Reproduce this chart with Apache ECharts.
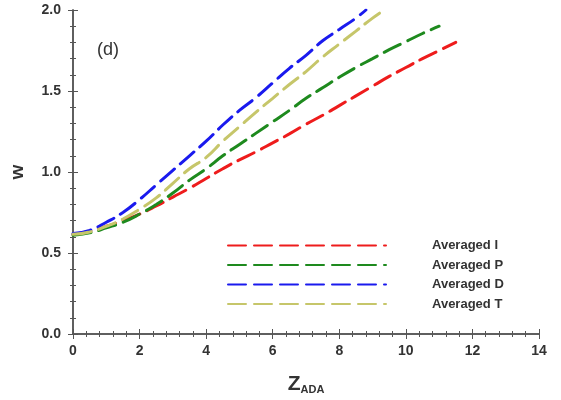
<!DOCTYPE html>
<html>
<head>
<meta charset="utf-8">
<script src="https://cdn.jsdelivr.net/npm/echarts@6/dist/echarts.min.js"></script>
<style>
  html, body { margin: 0; padding: 0; background: #fff; }
  #chart { width: 561px; height: 400px; }
</style>
</head>
<body>
<div id="chart"></div>
<script>
// curve data (x = Z_ADA, y = w)
let zI = [0, 0.5, 1, 1.5, 2, 2.5, 3, 3.5, 4, 4.5, 5, 5.5, 6, 6.5, 7, 7.5, 8, 8.5, 9, 9.5, 10, 10.5, 11, 11.5];
let wI = [0.615, 0.635, 0.665, 0.70, 0.74, 0.79, 0.845, 0.90, 0.96, 1.02, 1.075, 1.125, 1.18, 1.235, 1.295, 1.35, 1.41, 1.47, 1.53, 1.59, 1.645, 1.70, 1.75, 1.80];

let zP = [0, 0.5, 1, 1.5, 2, 2.5, 3, 3.5, 4, 4.5, 5, 5.5, 6, 6.5, 7, 7.5, 8, 8.5, 9, 9.5, 10, 10.5, 11];
let wP = [0.61, 0.625, 0.655, 0.69, 0.74, 0.80, 0.87, 0.95, 1.02, 1.10, 1.17, 1.24, 1.31, 1.38, 1.455, 1.52, 1.585, 1.645, 1.70, 1.755, 1.805, 1.855, 1.90];

let zD = [0, 0.5, 1, 1.5, 2, 2.5, 3, 3.5, 4, 4.5, 5, 5.5, 6, 6.5, 7, 7.5, 8, 8.5, 8.8];
let wD = [0.62, 0.64, 0.69, 0.75, 0.83, 0.92, 1.01, 1.10, 1.19, 1.29, 1.38, 1.46, 1.55, 1.64, 1.72, 1.81, 1.88, 1.95, 2.0];

let zT = [0, 0.5, 1, 1.5, 2, 2.5, 3, 3.5, 4, 4.5, 5, 5.5, 6, 6.5, 7, 7.5, 8, 8.5, 9, 9.35];
let wT = [0.615, 0.63, 0.665, 0.71, 0.77, 0.84, 0.93, 1.02, 1.09, 1.19, 1.28, 1.37, 1.455, 1.54, 1.62, 1.71, 1.79, 1.87, 1.95, 2.0];

let names = ['Averaged I', 'Averaged P', 'Averaged D', 'Averaged T'];
let colors = ['#ee1c1c', '#1e8a1e', '#1a1aee', '#c6c66a'];

function pairs(xs, ys) {
    let out = [];
    for (let i = 0; i < xs.length; i++) out.push([xs[i], ys[i]]);
    return out;
}

let allData = [pairs(zI, wI), pairs(zP, wP), pairs(zD, wD), pairs(zT, wT)];

let axisCol = '#555';
let font = 'Liberation Sans, Arial';
let labelStyle = { color: '#333', fontSize: 14, fontWeight: 'bold', fontFamily: font };

let seriesList = [];
for (let i = 0; i < names.length; i++) {
    seriesList.push({
        name: names[i],
        type: 'line',
        data: allData[i],
        smooth: true,
        symbol: 'none',
        showSymbol: false,
        color: colors[i],
        lineStyle: { width: 3, type: [18, 8], cap: 'round' }
    });
}

let option = {
    animation: false,
    backgroundColor: '#fff',
    title: {
        text: '(d)',
        left: 92,
        top: 36,
        textStyle: { fontSize: 18, fontWeight: 'normal', color: '#333', fontFamily: font }
    },
    legend: {
        orient: 'vertical',
        left: 222,
        top: 234,
        itemWidth: 158,
        itemHeight: 14,
        itemGap: 6.5,
        data: names,
        itemStyle: { opacity: 0 },
        textStyle: { padding: [0, 0, 0, 41], fontSize: 13, color: '#333', fontWeight: 'bold', fontFamily: font }
    },
    grid: { left: 72, right: 22, top: 10, bottom: 64 },
    xAxis: [
        {
            type: 'value', min: 0, max: 14, interval: 2,
            name: '{a|Z}{b|ADA}',
            nameLocation: 'middle',
            nameGap: 40,
            nameTextStyle: {
                rich: {
                    a: { fontSize: 21, fontWeight: 'bold', color: '#333', fontFamily: font },
                    b: { fontSize: 11, fontWeight: 'bold', color: '#333', fontFamily: font, padding: [10, 0, 0, 0] }
                }
            },
            axisLine: { lineStyle: { color: axisCol, width: 1.5 } },
            axisTick: { inside: true, length: 5, lineStyle: { color: axisCol } },
            minorTick: { show: true, splitNumber: 5, length: 3, lineStyle: { color: axisCol } },
            axisLabel: Object.assign({ margin: 10 }, labelStyle),
            splitLine: { show: false }
        },
        {
            type: 'value', min: 0, max: 14, interval: 2, position: 'top',
            axisLine: { show: true, lineStyle: { color: axisCol, width: 1.5 } },
            axisTick: { inside: true, length: 5, lineStyle: { color: axisCol } },
            minorTick: { show: true, splitNumber: 5, length: 3, lineStyle: { color: axisCol } },
            axisLabel: { show: false },
            splitLine: { show: false }
        }
    ],
    yAxis: [
        {
            type: 'value', min: 0, max: 2, interval: 0.5,
            name: 'w',
            nameLocation: 'middle',
            nameGap: 46,
            nameTextStyle: { fontSize: 19, fontWeight: 'bold', color: '#333', fontFamily: font },
            axisLine: { show: true, lineStyle: { color: axisCol, width: 1.5 } },
            axisTick: { inside: true, length: 5, lineStyle: { color: axisCol } },
            minorTick: { show: true, splitNumber: 5, length: 3, lineStyle: { color: axisCol } },
            axisLabel: Object.assign({ margin: 12, formatter: function (v) { return v.toFixed(1); } }, labelStyle),
            splitLine: { show: false }
        },
        {
            type: 'value', min: 0, max: 2, interval: 0.5, position: 'right',
            axisLine: { show: true, lineStyle: { color: axisCol, width: 1.5 } },
            axisTick: { inside: true, length: 5, lineStyle: { color: axisCol } },
            minorTick: { show: true, splitNumber: 5, length: 3, lineStyle: { color: axisCol } },
            axisLabel: { show: false },
            splitLine: { show: false }
        }
    ],
    series: seriesList
};

let chart = echarts.init(document.getElementById('chart'));
chart.setOption(option);
</script>
</body>
</html>
